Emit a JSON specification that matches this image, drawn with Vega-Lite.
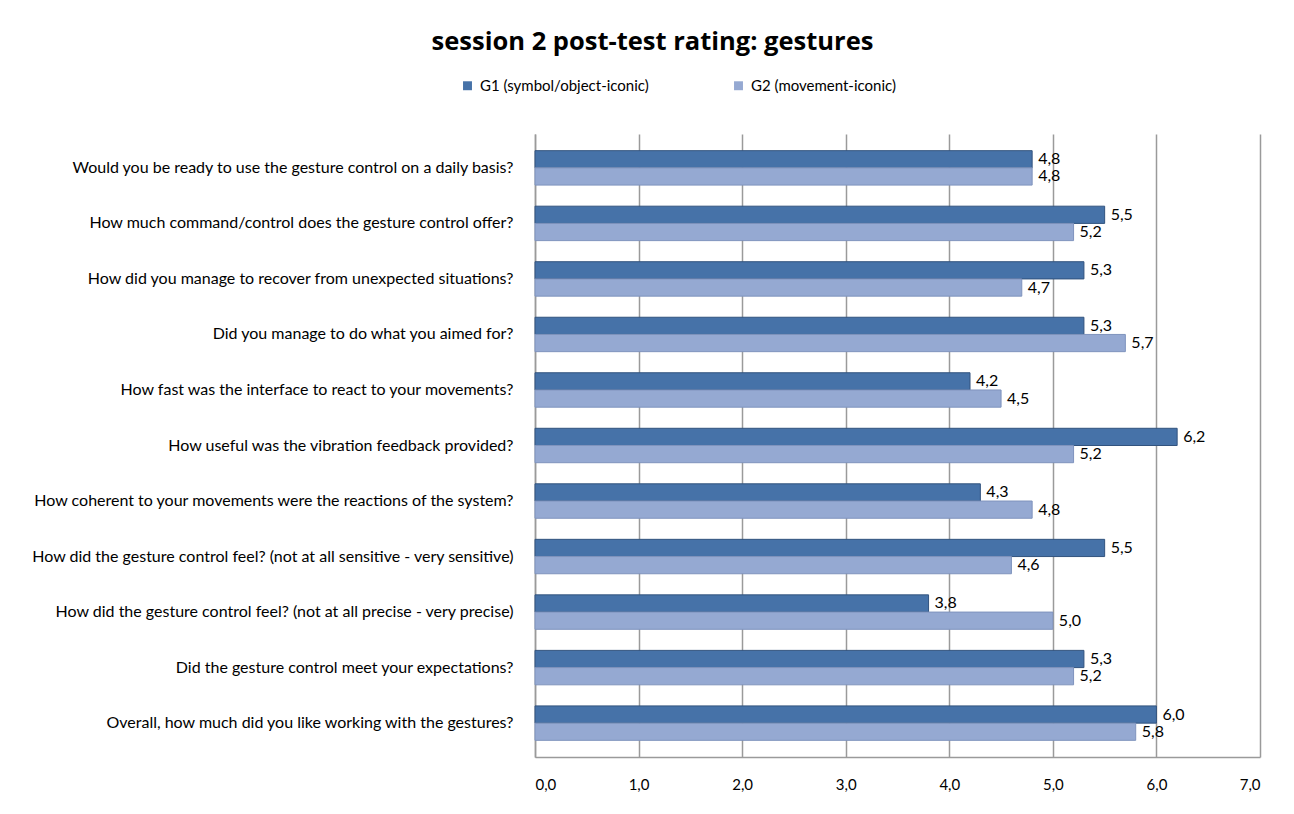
{
  "$schema": "https://vega.github.io/schema/vega-lite/v6.json",
  "autosize": {"type": "none"},
  "width": 725,
  "height": 623,
  "padding": {"left": 535, "top": 134, "right": 34, "bottom": 57},
  "background": "white",
  "config": {
    "locale": {"number": {"decimal": ",", "thousands": ".", "grouping": [3], "currency": ["", " €"]}},
    "font": "Lato",
    "view": {"stroke": null}
  },
  "title": {
    "text": "session 2 post-test rating: gestures",
    "font": "Open Sans",
    "fontSize": 25.5,
    "fontWeight": "bold",
    "color": "#000000",
    "anchor": "middle",
    "frame": "group",
    "dx": -245,
    "offset": 23
  },
  "data": {
    "values": [
      {"q": "Would you be ready to use the gesture control on a daily basis?", "g": "G1 (symbol/object-iconic)", "v": 4.8},
      {"q": "Would you be ready to use the gesture control on a daily basis?", "g": "G2 (movement-iconic)", "v": 4.8},
      {"q": "How much command/control does the gesture control offer?", "g": "G1 (symbol/object-iconic)", "v": 5.5},
      {"q": "How much command/control does the gesture control offer?", "g": "G2 (movement-iconic)", "v": 5.2},
      {"q": "How did you manage to recover from unexpected situations?", "g": "G1 (symbol/object-iconic)", "v": 5.3},
      {"q": "How did you manage to recover from unexpected situations?", "g": "G2 (movement-iconic)", "v": 4.7},
      {"q": "Did you manage to do what you aimed for?", "g": "G1 (symbol/object-iconic)", "v": 5.3},
      {"q": "Did you manage to do what you aimed for?", "g": "G2 (movement-iconic)", "v": 5.7},
      {"q": "How fast was the interface to react to your movements?", "g": "G1 (symbol/object-iconic)", "v": 4.2},
      {"q": "How fast was the interface to react to your movements?", "g": "G2 (movement-iconic)", "v": 4.5},
      {"q": "How useful  was the vibration feedback provided?", "g": "G1 (symbol/object-iconic)", "v": 6.2},
      {"q": "How useful  was the vibration feedback provided?", "g": "G2 (movement-iconic)", "v": 5.2},
      {"q": "How coherent to your movements were the reactions of the system?", "g": "G1 (symbol/object-iconic)", "v": 4.3},
      {"q": "How coherent to your movements were the reactions of the system?", "g": "G2 (movement-iconic)", "v": 4.8},
      {"q": "How did the gesture control feel? (not at all sensitive -  very sensitive)", "g": "G1 (symbol/object-iconic)", "v": 5.5},
      {"q": "How did the gesture control feel? (not at all sensitive -  very sensitive)", "g": "G2 (movement-iconic)", "v": 4.6},
      {"q": "How did the gesture control feel? (not at all precise -  very precise)", "g": "G1 (symbol/object-iconic)", "v": 3.8},
      {"q": "How did the gesture control feel? (not at all precise -  very precise)", "g": "G2 (movement-iconic)", "v": 5.0},
      {"q": "Did the gesture control meet your expectations?", "g": "G1 (symbol/object-iconic)", "v": 5.3},
      {"q": "Did the gesture control meet your expectations?", "g": "G2 (movement-iconic)", "v": 5.2},
      {"q": "Overall, how much did you like working with the gestures?", "g": "G1 (symbol/object-iconic)", "v": 6.0},
      {"q": "Overall, how much did you like working with the gestures?", "g": "G2 (movement-iconic)", "v": 5.8}
    ]
  },
  "encoding": {
    "y": {
      "field": "q",
      "type": "nominal",
      "sort": null,
      "scale": {"paddingInner": 0.38, "paddingOuter": 0.3},
      "axis": {
        "title": null,
        "ticks": false,
        "domain": true,
        "domainColor": "#9a9a9a",
        "domainWidth": 1.5,
        "labelFontSize": 16,
        "labelColor": "#000000",
        "labelPadding": 22,
        "labelLimit": 540,
        "labelFont": "Lato"
      }
    },
    "yOffset": {"field": "g", "type": "nominal", "sort": ["G1 (symbol/object-iconic)", "G2 (movement-iconic)"]},
    "x": {
      "field": "v",
      "type": "quantitative",
      "scale": {"domain": [0, 7], "nice": false},
      "axis": {
        "title": null,
        "values": [0, 1, 2, 3, 4, 5, 6, 7],
        "format": ".1f",
        "grid": true,
        "gridColor": "#9a9a9a",
        "gridWidth": 1.5,
        "domain": true,
        "domainColor": "#9a9a9a",
        "domainWidth": 1.5,
        "ticks": false,
        "labelPadding": 20,
        "labelDx": -7,
        "labelFontSize": 15,
        "labelColor": "#000000",
        "labelFont": "Lato"
      }
    }
  },
  "layer": [
    {
      "mark": {"type": "bar", "strokeWidth": 1},
      "encoding": {
        "color": {
          "field": "g",
          "type": "nominal",
          "scale": {"domain": ["G1 (symbol/object-iconic)", "G2 (movement-iconic)"], "range": ["#4672a8", "#95a9d2"]},
          "legend": {
            "title": null,
            "orient": "none",
            "direction": "horizontal",
            "legendX": -75,
            "legendY": -56,
            "symbolType": "square",
            "symbolSize": 80,
            "symbolStrokeWidth": 0,
            "labelFontSize": 15,
            "labelFont": "Lato",
            "labelLimit": 300,
            "labelColor": "#000000",
            "columnPadding": 82,
            "labelOffset": 5
          }
        },
        "stroke": {
          "field": "g",
          "type": "nominal",
          "scale": {"domain": ["G1 (symbol/object-iconic)", "G2 (movement-iconic)"], "range": ["#32537e", "#7f93bd"]},
          "legend": null
        }
      }
    },
    {
      "mark": {"type": "text", "align": "left", "baseline": "middle", "dx": 6, "fontSize": 16, "font": "Lato", "color": "#000000"},
      "encoding": {
        "text": {"field": "v", "type": "quantitative", "format": ".1f"}
      }
    }
  ]
}
